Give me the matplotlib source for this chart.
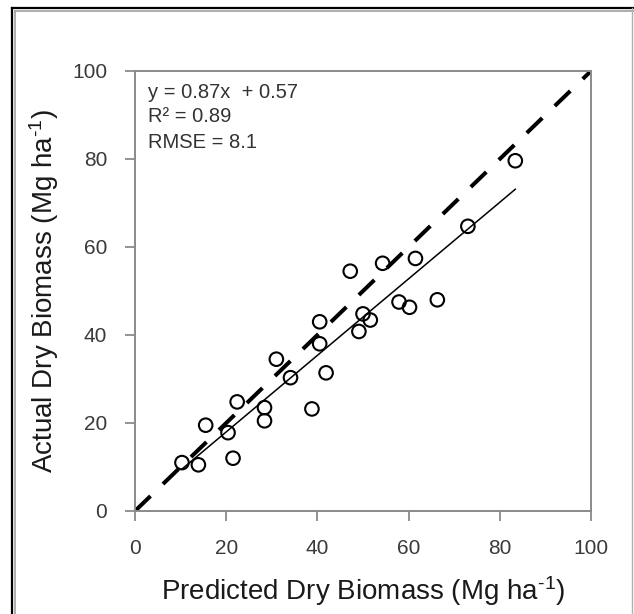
import matplotlib
matplotlib.use("Agg")
import matplotlib.pyplot as plt
from matplotlib.lines import Line2D
import numpy as np

plt.rcParams['font.family'] = ['Liberation Sans', 'DejaVu Sans']
plt.rcParams['mathtext.fontset'] = 'custom'
plt.rcParams['mathtext.rm'] = 'Liberation Sans'
plt.rcParams['mathtext.default'] = 'regular'
plt.rcParams['lines.scale_dashes'] = False

# Predicted vs. actual dry biomass (Mg ha-1)
predicted = [10.3, 13.9, 15.5, 20.4, 21.5, 22.4, 28.4, 28.4, 31.0, 34.1,
             38.8, 40.5, 40.5, 41.9, 47.2, 49.1, 50.0, 51.6, 54.3, 57.9,
             60.2, 61.5, 66.3, 73.0, 83.4]
actual = [11.0, 10.5, 19.5, 17.8, 12.0, 24.8, 23.5, 20.5, 34.5, 30.3,
          23.2, 43.0, 38.0, 31.4, 54.5, 40.8, 44.8, 43.4, 56.3, 47.5,
          46.3, 57.4, 48.0, 64.7, 79.6]

slope = 0.87
intercept = 0.57
r_squared = 0.89
rmse = 8.1

x_ticks = [0, 20, 40, 60, 80, 100]
y_ticks = [0, 20, 40, 60, 80, 100]

fig = plt.figure(figsize=(6.34, 6.14), dpi=100)
ax = fig.add_axes([135 / 634, 1 - 511 / 614, 456 / 634, 440 / 614])

# 1:1 reference line
ax.plot([0, 100], [0, 100], color='black', lw=2.9,
        linestyle=(0, (15.5, 12.5)), solid_capstyle='butt',
        dash_capstyle='butt', zorder=2)

# fitted regression line over the observed range
xr = np.array([min(predicted), max(predicted)])
ax.plot(xr, slope * xr + intercept, color='black', lw=1.1, zorder=3)

ax.scatter(predicted, actual, s=95, facecolors='none', edgecolors='black',
           linewidths=1.5, zorder=4)

ax.set_xlim(0, 100)
ax.set_ylim(0, 100)
ax.set_xticks(x_ticks)
ax.set_yticks(y_ticks)
ax.tick_params(direction='out', length=7, width=1.3, color='#8a8a8a',
               labelsize=15, labelcolor='#3a3a3a')
ax.tick_params(axis='y', pad=13)
ax.tick_params(axis='x', pad=13)
for sp in ax.spines.values():
    sp.set_color('#8a8a8a')
    sp.set_linewidth(1.4)

ax.set_xlabel('Predicted Dry Biomass (Mg ha$^{\\text{-1}}$)', fontsize=20,
              color='#1a1a1a', labelpad=12)
ax.set_ylabel('Actual Dry Biomass (Mg ha$^{\\text{-1}}$)', fontsize=20,
              color='#1a1a1a', labelpad=8)

stats = [f'y = {slope}x  + {intercept}', f'R² = {r_squared}', f'RMSE = {rmse}']
for i, line in enumerate(stats):
    fig.text(148 / 634, 1 - (92 + 25 * i) / 614, line, fontsize=14.5,
             color='#333333', va='center', ha='left')

# outer frame
W, H = 634, 614
def px_line(xs, ys, color, lw):
    fig.add_artist(Line2D([x / W for x in xs], [1 - y / H for y in ys],
                          color=color, lw=lw, transform=fig.transFigure))

px_line([11.5, 11.5], [7.5, 614], 'black', 1.6)
px_line([11.5, 634], [7.5, 7.5], 'black', 1.6)
px_line([14.5, 14.5], [11, 614], '#a0a0a0', 1.2)
px_line([14.5, 634], [11, 11], '#a0a0a0', 1.2)
px_line([631.5, 631.5], [7.5, 614], '#b0b0b0', 1.0)

fig.savefig('out.png', dpi=100)
